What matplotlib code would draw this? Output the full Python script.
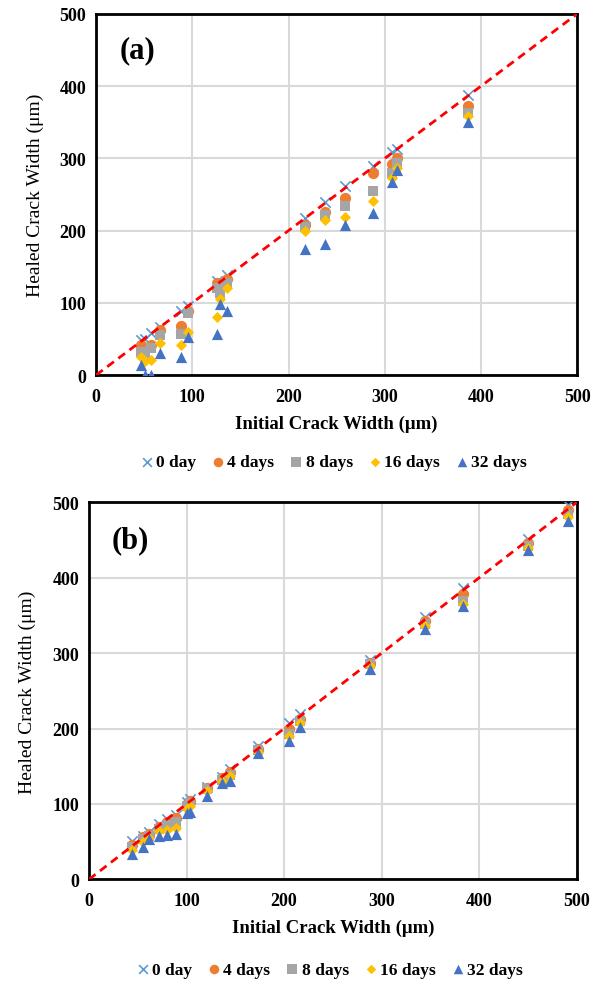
import matplotlib
matplotlib.use("Agg")
import matplotlib.pyplot as plt

plt.rcParams['font.family'] = ['Liberation Serif', 'DejaVu Serif']
plt.rcParams['font.weight'] = 'bold'

# panel (a)
xa = [47, 51, 57, 66, 88, 95, 126, 129, 136, 217, 238, 259, 288, 307, 313, 386]
a_0d = [48, 50, 58, 66, 89, 95, 130, 128, 138, 217, 239, 261, 290, 309, 313, 388]
a_4d = [42, 38, 42, 62, 68, 88, 128, 125, 133, 208, 225, 245, 279, 292, 301, 372]
a_8d = [32, 28, 38, 56, 57, 86, 121, 114, 128, 205, 221, 234, 255, 279, 294, 363]
a_16d = [25, 20, 21, 45, 42, 60, 80, 105, 121, 200, 215, 219, 241, 273, 287, 358]
a_32d = [14, 0, 0, 30, 25, 53, 57, 98, 89, 175, 182, 208, 224, 267, 284, 350]

# panel (b)
xb = [44, 55, 62, 72, 80, 89, 100, 104, 121, 136, 145, 173, 205, 216, 288, 345, 383, 450, 491]
b_0d = [51, 58, 63, 73, 80, 86, 103, 107, 123, 136, 146, 177, 208, 219, 291, 348, 387, 452, 497]
b_4d = [46, 56, 60, 70, 76, 82, 100, 104, 121, 134, 142, 173, 200, 213, 287, 343, 379, 446, 490]
b_8d = [43, 54, 58, 67, 72, 76, 97, 101, 120, 132, 139, 171, 193, 210, 285, 339, 369, 442, 485]
b_16d = [39, 49, 55, 64, 66, 68, 93, 97, 117, 131, 137, 169, 190, 207, 283, 336, 365, 440, 481]
b_32d = [34, 43, 53, 58, 59, 60, 88, 90, 111, 128, 131, 167, 184, 202, 279, 332, 362, 437, 475]

labels = ['0 day', '4 days', '8 days', '16 days', '32 days']
colors = ['#5B9BD5', '#ED7D31', '#A5A5A5', '#FFC000', '#4472C4']
markers = ['x', 'o', 's', 'D', '^']
sizes = [55, 65, 60, 32, 65]


def draw(ax, x, series, tag, ylpad):
    ax.set_axisbelow(True)
    ax.grid(True, color='#D9D9D9', linewidth=1.5)
    for ys, lab, c, m, s in zip(series, labels, colors, markers, sizes):
        if m == 'x':
            ax.scatter(x, ys, marker=m, s=s, color=c, linewidths=1.2, label=lab, zorder=3)
        else:
            ax.scatter(x, ys, marker=m, s=s, color=c, linewidths=0, label=lab, zorder=3)
    ax.plot([0, 500], [0, 500], '--', color='#FF0000', linewidth=2, dashes=(3, 2), zorder=4)
    ax.set_xlim(0, 500)
    ax.set_ylim(0, 500)
    ax.set_xticks(range(0, 501, 100))
    ax.set_yticks(range(0, 501, 100))
    ax.tick_params(axis='x', length=0, labelsize=13, pad=9)
    ax.tick_params(axis='y', length=0, labelsize=13, pad=7)
    for sp in ax.spines.values():
        sp.set_linewidth(2)
        sp.set_color('black')
    ax.set_xlabel('Initial Crack Width (μm)', fontsize=13.5, fontweight='bold', labelpad=7)
    ax.set_ylabel('Healed Crack Width (μm)', fontsize=14, fontweight='normal', labelpad=ylpad)
    ax.text(0.085, 0.9, tag, transform=ax.transAxes, fontsize=22, fontweight='bold',
            ha='center', va='center')
    ax.legend(loc='upper center', bbox_to_anchor=(0.49, -0.2), ncol=5, frameon=False,
              fontsize=12.5, handletextpad=0.0, handlelength=1.1, columnspacing=0.7,
              borderaxespad=0, scatterpoints=1, markerscale=0.85)


fig = plt.figure(figsize=(5.97, 9.87), dpi=100)
ax1 = fig.add_axes([0.161, 0.619, 0.806, 0.366])
ax2 = fig.add_axes([0.149, 0.108, 0.817, 0.382])

draw(ax1, xa, [a_0d, a_4d, a_8d, a_16d, a_32d], '(a)', 11)
draw(ax2, xb, [b_0d, b_4d, b_8d, b_16d, b_32d], '(b)', 12)

fig.savefig('out.png', dpi=100)
